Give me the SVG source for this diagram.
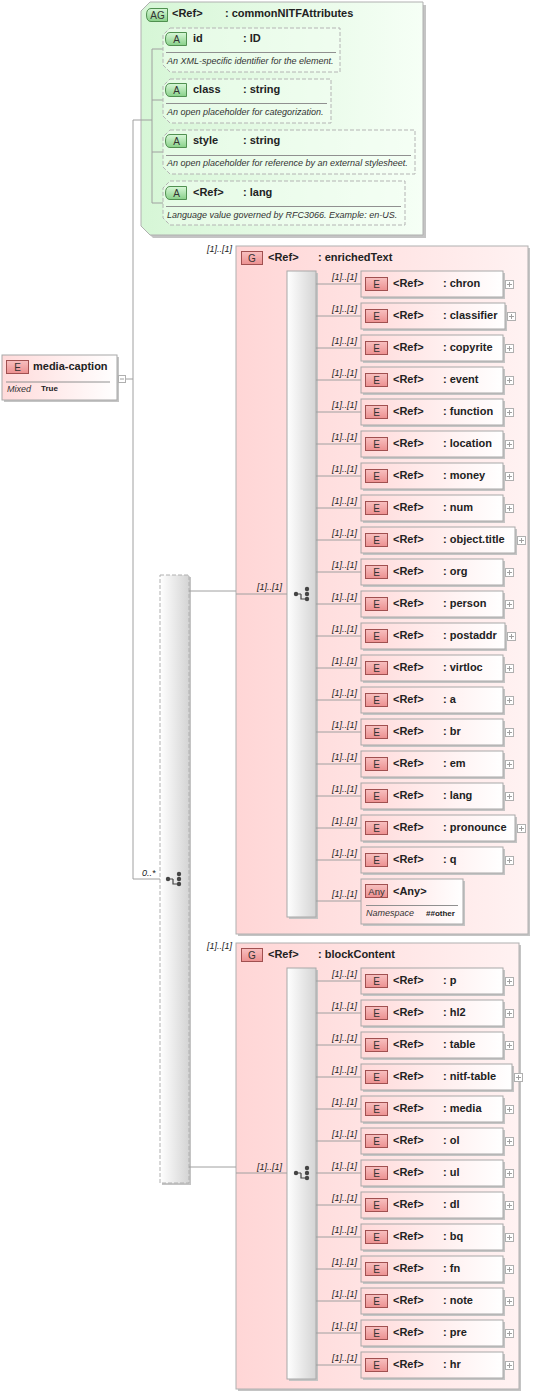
<svg xmlns="http://www.w3.org/2000/svg" xmlns:xlink="http://www.w3.org/1999/xlink" width="537" height="1398" viewBox="0 0 537 1398">
<defs>
<linearGradient id="gEl" x1="0" y1="0" x2="1" y2="0"><stop offset="0" stop-color="#ffdada"/><stop offset="1" stop-color="#ffffff"/></linearGradient>
<linearGradient id="gGr" x1="0" y1="0" x2="1" y2="0"><stop offset="0" stop-color="#ffd6d6"/><stop offset="1" stop-color="#fff2f2"/></linearGradient>
<linearGradient id="gAG" x1="0" y1="0" x2="1" y2="0"><stop offset="0" stop-color="#d6f6d6"/><stop offset="1" stop-color="#f6fff6"/></linearGradient>
<linearGradient id="gCh" x1="0" y1="0" x2="1" y2="0"><stop offset="0" stop-color="#ffffff"/><stop offset="1" stop-color="#d4d4d4"/></linearGradient>
<linearGradient id="gBE" x1="0" y1="0" x2="0" y2="1"><stop offset="0" stop-color="#f8c0c0"/><stop offset="1" stop-color="#ec9090"/></linearGradient>
<linearGradient id="gBA" x1="0" y1="0" x2="0" y2="1"><stop offset="0" stop-color="#d8f8d8"/><stop offset="1" stop-color="#88d088"/></linearGradient>
<style>
.t{font-family:"Liberation Sans",Arial,sans-serif;font-size:11px;font-weight:bold;fill:#222}
.c{font-family:"Liberation Sans",Arial,sans-serif;font-size:9px;font-style:italic;fill:#222}
.d{font-family:"Liberation Sans",Arial,sans-serif;font-size:9px;font-style:italic;fill:#333}
.s{font-family:"Liberation Sans",Arial,sans-serif;font-size:8px;font-weight:bold;fill:#222}
.bt{font-family:"Liberation Sans",Arial,sans-serif;font-size:10px;fill:#333;text-anchor:middle}
.sh{fill:#c4c4c4}
.el{fill:url(#gEl);stroke:#a8a8a8;stroke-width:1}
.gr{fill:url(#gGr);stroke:#b0b0b0;stroke-width:1}
.ag{fill:url(#gAG);stroke:#b0b0b0;stroke-width:1}
.at{fill:#f4fff4;fill-opacity:0.45;stroke:#b4b4b4;stroke-width:1;stroke-dasharray:4,2}
.ch{fill:url(#gCh);stroke:#a8a8a8;stroke-width:1}
.chd{fill:url(#gCh);stroke:#b0b0b0;stroke-width:1;stroke-dasharray:4,2}
.bE{fill:url(#gBE);stroke:#a05050;stroke-width:1}
.bA{fill:url(#gBA);stroke:#509050;stroke-width:1}
.ln{fill:none;stroke:#a0a0a0;stroke-width:1}
.sep{stroke:#909090;stroke-width:1}
.pb{fill:#fff;stroke:#b0b0b0;stroke-width:1}
.pl{stroke:#a0a0a0;stroke-width:1}
.ic{fill:#444}
.icl{fill:none;stroke:#444;stroke-width:1.2}
</style>
<g id="plus"><rect class="pb" x="0.5" y="0.5" width="8" height="8"/><path class="pl" d="M2 4.5h5M4.5 2v5"/></g>
<g id="badgeE"><rect class="bE" x="0.5" y="0.5" width="22" height="13"/><text class="bt" x="11.5" y="11">E</text></g>
<g id="choice"><circle class="ic" cx="-6" cy="0" r="2.2"/><path class="icl" d="M-6 0H-1M-1 0V5H4"/><circle class="ic" cx="5" cy="-5" r="2.2"/><circle class="ic" cx="5" cy="0" r="2.2"/><circle class="ic" cx="5" cy="5" r="2.2"/></g>
</defs>

<g id="media-caption">
<rect class="sh" x="4" y="357" width="115" height="45"/>
<rect class="el" x="2" y="355" width="115" height="45"/>
<use xlink:href="#badgeE" x="6" y="360"/>
<text class="t" x="33" y="370">media-caption</text>
<line class="sep" x1="6" y1="382" x2="110" y2="382"/>
<text class="d" x="7" y="392">Mixed</text>
<text class="s" x="41" y="391">True</text>
<rect class="pb" x="118.5" y="375.5" width="7" height="7"/>
<path class="pl" d="M120 379h4"/>
</g>

<g id="commonNITFAttributes">
<path class="sh" d="M153 5H426V238H153L144 229V14Z"/>
<path class="ag" d="M150 2H423V235H150L141 226V11Z"/>
<path class="bA" d="M151 8.5H167.5V21.5H151Q146.5 21.5 146.5 15Q146.5 8.5 151 8.5Z"/>
<text class="bt" x="157.5" y="19" style="font-size:10px">AG</text>
<text class="t" x="172" y="17">&lt;Ref&gt;</text>
<text class="t" x="225" y="17">: commonNITFAttributes</text>
</g>

<g id="enrichedText">
<rect class="sh" x="238" y="248" width="292" height="688"/>
<rect class="gr" x="236" y="246" width="292" height="688"/>
<rect class="bE" x="241.5" y="251.5" width="21" height="13"/>
<text class="bt" x="252" y="262">G</text>
<text class="t" x="268" y="261">&lt;Ref&gt;</text>
<text class="t" x="318" y="261">: enrichedText</text>
</g>

<g id="blockContent">
<rect class="sh" x="238" y="945" width="283" height="446"/>
<rect class="gr" x="236" y="943" width="283" height="446"/>
<rect class="bE" x="241.5" y="948.5" width="21" height="13"/>
<text class="bt" x="252" y="959">G</text>
<text class="t" x="268" y="958">&lt;Ref&gt;</text>
<text class="t" x="318" y="958">: blockContent</text>
</g>

<g id="choice-outer">
<rect class="sh" x="162" y="577" width="29" height="608"/>
<rect class="chd" x="160" y="575" width="29" height="608"/>
<use xlink:href="#choice" x="174" y="879"/>
</g>

<g id="choice-enriched">
<rect class="sh" x="289" y="273" width="29" height="646"/>
<rect class="ch" x="287" y="271" width="29" height="646"/>
<use xlink:href="#choice" x="302" y="594"/>
</g>

<g id="choice-block">
<rect class="sh" x="289" y="970" width="29" height="411"/>
<rect class="ch" x="287" y="968" width="29" height="411"/>
<use xlink:href="#choice" x="302" y="1173"/>
</g>

<g id="connectors">
<path class="ln" d="M126 379H133M133 120V879M133 120H152M152 49V203M152 49H163M152 100H163M152 152H163M152 203H163M133 879H160"/>
<path class="ln" d="M189 591H236M236 594H287M189 1167H236M236 1173H287"/>
<path class="ln" d="M316 284H361M316 316H361M316 348H361M316 380H361M316 412H361M316 444H361M316 476H361M316 508H361M316 540H361M316 572H361M316 604H361M316 636H361M316 668H361M316 700H361M316 732H361M316 764H361M316 796H361M316 828H361M316 860H361M316 901H361"/>
<path class="ln" d="M316 981H361M316 1013H361M316 1045H361M316 1077H361M316 1109H361M316 1141H361M316 1173H361M316 1205H361M316 1237H361M316 1269H361M316 1301H361M316 1333H361M316 1365H361"/>
<text class="c" x="142" y="876">0..*</text>
<text class="c" x="257" y="590">[1]..[1]</text>
<text class="c" x="257" y="1170">[1]..[1]</text>
<text class="c" x="207" y="252">[1]..[1]</text>
<text class="c" x="207" y="949">[1]..[1]</text>
<text class="c" x="332" y="280">[1]..[1]</text><text class="c" x="332" y="312">[1]..[1]</text><text class="c" x="332" y="344">[1]..[1]</text><text class="c" x="332" y="376">[1]..[1]</text><text class="c" x="332" y="408">[1]..[1]</text><text class="c" x="332" y="440">[1]..[1]</text><text class="c" x="332" y="472">[1]..[1]</text><text class="c" x="332" y="504">[1]..[1]</text><text class="c" x="332" y="536">[1]..[1]</text><text class="c" x="332" y="568">[1]..[1]</text><text class="c" x="332" y="600">[1]..[1]</text><text class="c" x="332" y="632">[1]..[1]</text><text class="c" x="332" y="664">[1]..[1]</text><text class="c" x="332" y="696">[1]..[1]</text><text class="c" x="332" y="728">[1]..[1]</text><text class="c" x="332" y="760">[1]..[1]</text><text class="c" x="332" y="792">[1]..[1]</text><text class="c" x="332" y="824">[1]..[1]</text><text class="c" x="332" y="856">[1]..[1]</text><text class="c" x="332" y="897">[1]..[1]</text>
<text class="c" x="332" y="977">[1]..[1]</text><text class="c" x="332" y="1009">[1]..[1]</text><text class="c" x="332" y="1041">[1]..[1]</text><text class="c" x="332" y="1073">[1]..[1]</text><text class="c" x="332" y="1105">[1]..[1]</text><text class="c" x="332" y="1137">[1]..[1]</text><text class="c" x="332" y="1169">[1]..[1]</text><text class="c" x="332" y="1201">[1]..[1]</text><text class="c" x="332" y="1233">[1]..[1]</text><text class="c" x="332" y="1265">[1]..[1]</text><text class="c" x="332" y="1297">[1]..[1]</text><text class="c" x="332" y="1329">[1]..[1]</text><text class="c" x="332" y="1361">[1]..[1]</text>
</g>

<g id="attr-id">
<path class="at" d="M170 28H340V72H170L163 65V35Z"/>
<path class="bA" d="M170 32.5H186.5V45.5H170Q165.5 45.5 165.5 39Q165.5 32.5 170 32.5Z"/>
<text class="bt" x="176.5" y="43">A</text>
<text class="t" x="193" y="42">id</text>
<text class="t" x="243" y="42">: ID</text>
<line class="sep" x1="166" y1="52.5" x2="336" y2="52.5"/>
<text class="d" x="167" y="64">An XML-specific identifier for the element.</text>
</g>

<g id="attr-class">
<path class="at" d="M170 79H331V123H170L163 116V86Z"/>
<path class="bA" d="M170 83.5H186.5V96.5H170Q165.5 96.5 165.5 90Q165.5 83.5 170 83.5Z"/>
<text class="bt" x="176.5" y="94">A</text>
<text class="t" x="193" y="93">class</text>
<text class="t" x="243" y="93">: string</text>
<line class="sep" x1="166" y1="103.5" x2="327" y2="103.5"/>
<text class="d" x="167" y="115">An open placeholder for categorization.</text>
</g>

<g id="attr-style">
<path class="at" d="M170 130H415V174H170L163 167V137Z"/>
<path class="bA" d="M170 134.5H186.5V147.5H170Q165.5 147.5 165.5 141Q165.5 134.5 170 134.5Z"/>
<text class="bt" x="176.5" y="145">A</text>
<text class="t" x="193" y="144">style</text>
<text class="t" x="243" y="144">: string</text>
<line class="sep" x1="166" y1="155.5" x2="411" y2="155.5"/>
<text class="d" x="167" y="166">An open placeholder for reference by an external stylesheet.</text>
</g>

<g id="attr-lang">
<path class="at" d="M170 181H405V225H170L163 218V188Z"/>
<path class="bA" d="M170 186.5H186.5V199.5H170Q165.5 199.5 165.5 193Q165.5 186.5 170 186.5Z"/>
<text class="bt" x="176.5" y="197">A</text>
<text class="t" x="193" y="196">&lt;Ref&gt;</text>
<text class="t" x="243" y="196">: lang</text>
<line class="sep" x1="166" y1="206.5" x2="401" y2="206.5"/>
<text class="d" x="167" y="218">Language value governed by RFC3066. Example: en-US.</text>
</g>

<g id="e-chron"><rect class="sh" x="363" y="273" width="142" height="26"/><rect class="el" x="361" y="271" width="142" height="26"/><use xlink:href="#badgeE" x="365" y="277"/><text class="t" x="393" y="287">&lt;Ref&gt;</text><text class="t" x="443" y="287">: chron</text><use xlink:href="#plus" x="505" y="280"/></g>
<g id="e-classifier"><rect class="sh" x="363" y="305" width="144" height="26"/><rect class="el" x="361" y="303" width="144" height="26"/><use xlink:href="#badgeE" x="365" y="309"/><text class="t" x="393" y="319">&lt;Ref&gt;</text><text class="t" x="443" y="319">: classifier</text><use xlink:href="#plus" x="507" y="312"/></g>
<g id="e-copyrite"><rect class="sh" x="363" y="337" width="142" height="26"/><rect class="el" x="361" y="335" width="142" height="26"/><use xlink:href="#badgeE" x="365" y="341"/><text class="t" x="393" y="351">&lt;Ref&gt;</text><text class="t" x="443" y="351">: copyrite</text><use xlink:href="#plus" x="505" y="344"/></g>
<g id="e-event"><rect class="sh" x="363" y="369" width="142" height="26"/><rect class="el" x="361" y="367" width="142" height="26"/><use xlink:href="#badgeE" x="365" y="373"/><text class="t" x="393" y="383">&lt;Ref&gt;</text><text class="t" x="443" y="383">: event</text><use xlink:href="#plus" x="505" y="376"/></g>
<g id="e-function"><rect class="sh" x="363" y="401" width="142" height="26"/><rect class="el" x="361" y="399" width="142" height="26"/><use xlink:href="#badgeE" x="365" y="405"/><text class="t" x="393" y="415">&lt;Ref&gt;</text><text class="t" x="443" y="415">: function</text><use xlink:href="#plus" x="505" y="408"/></g>
<g id="e-location"><rect class="sh" x="363" y="433" width="142" height="26"/><rect class="el" x="361" y="431" width="142" height="26"/><use xlink:href="#badgeE" x="365" y="437"/><text class="t" x="393" y="447">&lt;Ref&gt;</text><text class="t" x="443" y="447">: location</text><use xlink:href="#plus" x="505" y="440"/></g>
<g id="e-money"><rect class="sh" x="363" y="465" width="142" height="26"/><rect class="el" x="361" y="463" width="142" height="26"/><use xlink:href="#badgeE" x="365" y="469"/><text class="t" x="393" y="479">&lt;Ref&gt;</text><text class="t" x="443" y="479">: money</text><use xlink:href="#plus" x="505" y="472"/></g>
<g id="e-num"><rect class="sh" x="363" y="497" width="142" height="26"/><rect class="el" x="361" y="495" width="142" height="26"/><use xlink:href="#badgeE" x="365" y="501"/><text class="t" x="393" y="511">&lt;Ref&gt;</text><text class="t" x="443" y="511">: num</text><use xlink:href="#plus" x="505" y="504"/></g>
<g id="e-object.title"><rect class="sh" x="363" y="529" width="154" height="26"/><rect class="el" x="361" y="527" width="154" height="26"/><use xlink:href="#badgeE" x="365" y="533"/><text class="t" x="393" y="543">&lt;Ref&gt;</text><text class="t" x="443" y="543">: object.title</text><use xlink:href="#plus" x="517" y="536"/></g>
<g id="e-org"><rect class="sh" x="363" y="561" width="142" height="26"/><rect class="el" x="361" y="559" width="142" height="26"/><use xlink:href="#badgeE" x="365" y="565"/><text class="t" x="393" y="575">&lt;Ref&gt;</text><text class="t" x="443" y="575">: org</text><use xlink:href="#plus" x="505" y="568"/></g>
<g id="e-person"><rect class="sh" x="363" y="593" width="142" height="26"/><rect class="el" x="361" y="591" width="142" height="26"/><use xlink:href="#badgeE" x="365" y="597"/><text class="t" x="393" y="607">&lt;Ref&gt;</text><text class="t" x="443" y="607">: person</text><use xlink:href="#plus" x="505" y="600"/></g>
<g id="e-postaddr"><rect class="sh" x="363" y="625" width="144" height="26"/><rect class="el" x="361" y="623" width="144" height="26"/><use xlink:href="#badgeE" x="365" y="629"/><text class="t" x="393" y="639">&lt;Ref&gt;</text><text class="t" x="443" y="639">: postaddr</text><use xlink:href="#plus" x="507" y="632"/></g>
<g id="e-virtloc"><rect class="sh" x="363" y="657" width="142" height="26"/><rect class="el" x="361" y="655" width="142" height="26"/><use xlink:href="#badgeE" x="365" y="661"/><text class="t" x="393" y="671">&lt;Ref&gt;</text><text class="t" x="443" y="671">: virtloc</text><use xlink:href="#plus" x="505" y="664"/></g>
<g id="e-a"><rect class="sh" x="363" y="689" width="142" height="26"/><rect class="el" x="361" y="687" width="142" height="26"/><use xlink:href="#badgeE" x="365" y="693"/><text class="t" x="393" y="703">&lt;Ref&gt;</text><text class="t" x="443" y="703">: a</text><use xlink:href="#plus" x="505" y="696"/></g>
<g id="e-br"><rect class="sh" x="363" y="721" width="142" height="26"/><rect class="el" x="361" y="719" width="142" height="26"/><use xlink:href="#badgeE" x="365" y="725"/><text class="t" x="393" y="735">&lt;Ref&gt;</text><text class="t" x="443" y="735">: br</text><use xlink:href="#plus" x="505" y="728"/></g>
<g id="e-em"><rect class="sh" x="363" y="753" width="142" height="26"/><rect class="el" x="361" y="751" width="142" height="26"/><use xlink:href="#badgeE" x="365" y="757"/><text class="t" x="393" y="767">&lt;Ref&gt;</text><text class="t" x="443" y="767">: em</text><use xlink:href="#plus" x="505" y="760"/></g>
<g id="e-lang"><rect class="sh" x="363" y="785" width="142" height="26"/><rect class="el" x="361" y="783" width="142" height="26"/><use xlink:href="#badgeE" x="365" y="789"/><text class="t" x="393" y="799">&lt;Ref&gt;</text><text class="t" x="443" y="799">: lang</text><use xlink:href="#plus" x="505" y="792"/></g>
<g id="e-pronounce"><rect class="sh" x="363" y="817" width="154" height="26"/><rect class="el" x="361" y="815" width="154" height="26"/><use xlink:href="#badgeE" x="365" y="821"/><text class="t" x="393" y="831">&lt;Ref&gt;</text><text class="t" x="443" y="831">: pronounce</text><use xlink:href="#plus" x="517" y="824"/></g>
<g id="e-q"><rect class="sh" x="363" y="849" width="142" height="26"/><rect class="el" x="361" y="847" width="142" height="26"/><use xlink:href="#badgeE" x="365" y="853"/><text class="t" x="393" y="863">&lt;Ref&gt;</text><text class="t" x="443" y="863">: q</text><use xlink:href="#plus" x="505" y="856"/></g>
<g id="any"><rect class="sh" x="363" y="881" width="102" height="45"/><rect class="el" x="361" y="879" width="102" height="45"/><rect class="bE" x="365.5" y="884.5" width="22" height="13"/><text class="bt" x="376.5" y="895" style="font-size:9.5px">Any</text><text class="t" x="393" y="895">&lt;Any&gt;</text><line class="sep" x1="366" y1="905.5" x2="458" y2="905.5"/><text class="d" x="366" y="916">Namespace</text><text class="s" x="426" y="916">##other</text></g>

<g id="e-p"><rect class="sh" x="363" y="970" width="142" height="26"/><rect class="el" x="361" y="968" width="142" height="26"/><use xlink:href="#badgeE" x="365" y="974"/><text class="t" x="393" y="984">&lt;Ref&gt;</text><text class="t" x="443" y="984">: p</text><use xlink:href="#plus" x="505" y="977"/></g>
<g id="e-hl2"><rect class="sh" x="363" y="1002" width="142" height="26"/><rect class="el" x="361" y="1000" width="142" height="26"/><use xlink:href="#badgeE" x="365" y="1006"/><text class="t" x="393" y="1016">&lt;Ref&gt;</text><text class="t" x="443" y="1016">: hl2</text><use xlink:href="#plus" x="505" y="1009"/></g>
<g id="e-table"><rect class="sh" x="363" y="1034" width="142" height="26"/><rect class="el" x="361" y="1032" width="142" height="26"/><use xlink:href="#badgeE" x="365" y="1038"/><text class="t" x="393" y="1048">&lt;Ref&gt;</text><text class="t" x="443" y="1048">: table</text><use xlink:href="#plus" x="505" y="1041"/></g>
<g id="e-nitf-table"><rect class="sh" x="363" y="1066" width="151" height="26"/><rect class="el" x="361" y="1064" width="151" height="26"/><use xlink:href="#badgeE" x="365" y="1070"/><text class="t" x="393" y="1080">&lt;Ref&gt;</text><text class="t" x="443" y="1080">: nitf-table</text><use xlink:href="#plus" x="514" y="1073"/></g>
<g id="e-media"><rect class="sh" x="363" y="1098" width="142" height="26"/><rect class="el" x="361" y="1096" width="142" height="26"/><use xlink:href="#badgeE" x="365" y="1102"/><text class="t" x="393" y="1112">&lt;Ref&gt;</text><text class="t" x="443" y="1112">: media</text><use xlink:href="#plus" x="505" y="1105"/></g>
<g id="e-ol"><rect class="sh" x="363" y="1130" width="142" height="26"/><rect class="el" x="361" y="1128" width="142" height="26"/><use xlink:href="#badgeE" x="365" y="1134"/><text class="t" x="393" y="1144">&lt;Ref&gt;</text><text class="t" x="443" y="1144">: ol</text><use xlink:href="#plus" x="505" y="1137"/></g>
<g id="e-ul"><rect class="sh" x="363" y="1162" width="142" height="26"/><rect class="el" x="361" y="1160" width="142" height="26"/><use xlink:href="#badgeE" x="365" y="1166"/><text class="t" x="393" y="1176">&lt;Ref&gt;</text><text class="t" x="443" y="1176">: ul</text><use xlink:href="#plus" x="505" y="1169"/></g>
<g id="e-dl"><rect class="sh" x="363" y="1194" width="142" height="26"/><rect class="el" x="361" y="1192" width="142" height="26"/><use xlink:href="#badgeE" x="365" y="1198"/><text class="t" x="393" y="1208">&lt;Ref&gt;</text><text class="t" x="443" y="1208">: dl</text><use xlink:href="#plus" x="505" y="1201"/></g>
<g id="e-bq"><rect class="sh" x="363" y="1226" width="142" height="26"/><rect class="el" x="361" y="1224" width="142" height="26"/><use xlink:href="#badgeE" x="365" y="1230"/><text class="t" x="393" y="1240">&lt;Ref&gt;</text><text class="t" x="443" y="1240">: bq</text><use xlink:href="#plus" x="505" y="1233"/></g>
<g id="e-fn"><rect class="sh" x="363" y="1258" width="142" height="26"/><rect class="el" x="361" y="1256" width="142" height="26"/><use xlink:href="#badgeE" x="365" y="1262"/><text class="t" x="393" y="1272">&lt;Ref&gt;</text><text class="t" x="443" y="1272">: fn</text><use xlink:href="#plus" x="505" y="1265"/></g>
<g id="e-note"><rect class="sh" x="363" y="1290" width="142" height="26"/><rect class="el" x="361" y="1288" width="142" height="26"/><use xlink:href="#badgeE" x="365" y="1294"/><text class="t" x="393" y="1304">&lt;Ref&gt;</text><text class="t" x="443" y="1304">: note</text><use xlink:href="#plus" x="505" y="1297"/></g>
<g id="e-pre"><rect class="sh" x="363" y="1322" width="142" height="26"/><rect class="el" x="361" y="1320" width="142" height="26"/><use xlink:href="#badgeE" x="365" y="1326"/><text class="t" x="393" y="1336">&lt;Ref&gt;</text><text class="t" x="443" y="1336">: pre</text><use xlink:href="#plus" x="505" y="1329"/></g>
<g id="e-hr"><rect class="sh" x="363" y="1354" width="142" height="26"/><rect class="el" x="361" y="1352" width="142" height="26"/><use xlink:href="#badgeE" x="365" y="1358"/><text class="t" x="393" y="1368">&lt;Ref&gt;</text><text class="t" x="443" y="1368">: hr</text><use xlink:href="#plus" x="505" y="1361"/></g>
</svg>
